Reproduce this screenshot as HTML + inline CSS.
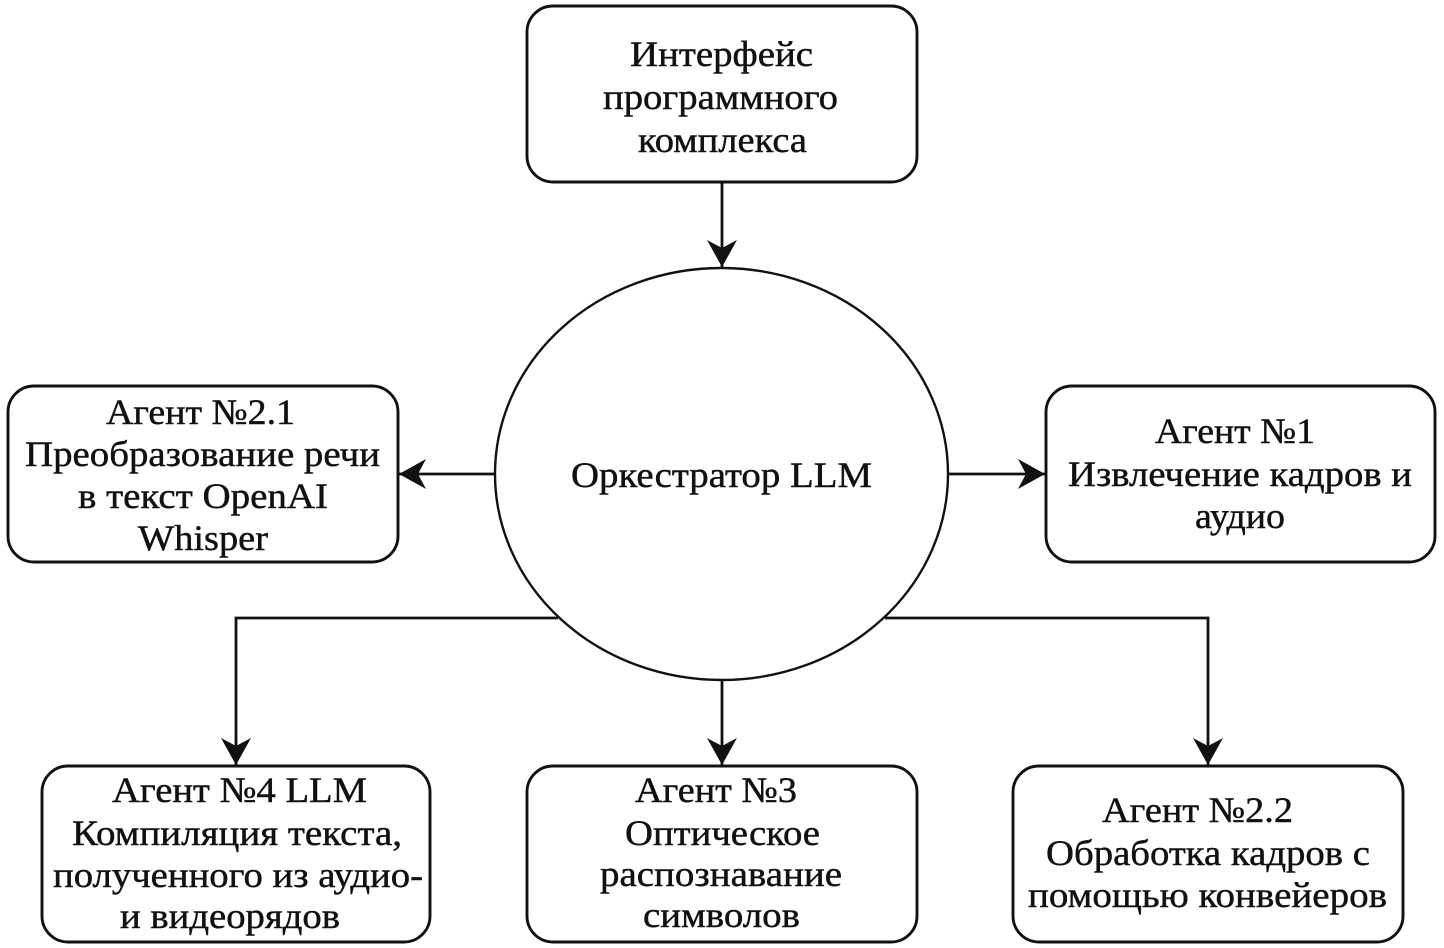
<!DOCTYPE html>
<html>
<head>
<meta charset="utf-8">
<style>
  html, body { margin: 0; padding: 0; background: #ffffff; }
  body { width: 1444px; height: 948px; overflow: hidden; }
  svg { display: block; }
  text { font-family: "Liberation Serif", "Noto Serif CJK SC", serif; font-size: 36px; fill: #111; stroke: #111; stroke-width: 0.45px; }
</style>
</head>
<body>
<svg width="1444" height="948" viewBox="0 0 1444 948" xmlns="http://www.w3.org/2000/svg">
  <defs>
    <marker id="ah" markerUnits="userSpaceOnUse" viewBox="0 0 28 30" markerWidth="28" markerHeight="30" refX="27" refY="15" orient="auto">
      <path d="M0,0 L27,15 L0,30 L8,15 Z" fill="#111"/>
    </marker>
  </defs>

  <g fill="none" stroke="#111" stroke-width="2.9">
    <rect x="527" y="6" width="390" height="176" rx="26" ry="26" fill="#fff"/>
    <rect x="8" y="386" width="390" height="176" rx="26" ry="26" fill="#fff"/>
    <rect x="1046" y="386" width="389" height="176" rx="26" ry="26" fill="#fff"/>
    <rect x="42" y="766" width="388" height="176" rx="26" ry="26" fill="#fff"/>
    <rect x="527" y="766" width="390" height="176" rx="26" ry="26" fill="#fff"/>
    <rect x="1013" y="766" width="390" height="176" rx="26" ry="26" fill="#fff"/>
    <ellipse cx="721.5" cy="474" rx="226.5" ry="206" stroke-width="2.4" fill="#fff"/>
  </g>

  <g fill="none" stroke="#111" stroke-width="2.8">
    <line x1="722" y1="182" x2="722" y2="267" marker-end="url(#ah)"/>
    <line x1="495" y1="474" x2="399" y2="474" marker-end="url(#ah)"/>
    <line x1="948" y1="474" x2="1045" y2="474" marker-end="url(#ah)"/>
    <line x1="722" y1="680" x2="722" y2="765" marker-end="url(#ah)"/>
    <polyline points="558,618 236,618 236,765" marker-end="url(#ah)"/>
    <polyline points="885,618 1208,618 1208,765" marker-end="url(#ah)"/>
  </g>

  <text x="630" y="66" textLength="183" lengthAdjust="spacingAndGlyphs">Интерфейс</text>
  <text x="603" y="109" textLength="235" lengthAdjust="spacingAndGlyphs">программного</text>
  <text x="638" y="152" textLength="169" lengthAdjust="spacingAndGlyphs">комплекса</text>

  <text x="571" y="487" textLength="301" lengthAdjust="spacingAndGlyphs">Оркестратор LLM</text>

  <text x="106" y="424" textLength="189" lengthAdjust="spacingAndGlyphs">Агент №2.1</text>
  <text x="25" y="466" textLength="355" lengthAdjust="spacingAndGlyphs">Преобразование речи</text>
  <text x="78" y="508" textLength="250" lengthAdjust="spacingAndGlyphs">в текст OpenAI</text>
  <text x="138" y="550" textLength="130" lengthAdjust="spacingAndGlyphs">Whisper</text>

  <text x="1155" y="443" textLength="160" lengthAdjust="spacingAndGlyphs">Агент №1</text>
  <text x="1068" y="486" textLength="344" lengthAdjust="spacingAndGlyphs">Извлечение кадров и</text>
  <text x="1195" y="528" textLength="90" lengthAdjust="spacingAndGlyphs">аудио</text>

  <text x="112" y="802" textLength="255" lengthAdjust="spacingAndGlyphs">Агент №4 LLM</text>
  <text x="72" y="845" textLength="330" lengthAdjust="spacingAndGlyphs">Компиляция текста,</text>
  <text x="53" y="887" textLength="370" lengthAdjust="spacingAndGlyphs">полученного из аудио-</text>
  <text x="120" y="928" textLength="220" lengthAdjust="spacingAndGlyphs">и видеорядов</text>

  <text x="635" y="802" textLength="162" lengthAdjust="spacingAndGlyphs">Агент №3</text>
  <text x="625" y="845" textLength="195" lengthAdjust="spacingAndGlyphs">Оптическое</text>
  <text x="600" y="886" textLength="242" lengthAdjust="spacingAndGlyphs">распознавание</text>
  <text x="643" y="927" textLength="157" lengthAdjust="spacingAndGlyphs">символов</text>

  <text x="1102" y="822" textLength="191" lengthAdjust="spacingAndGlyphs">Агент №2.2</text>
  <text x="1046" y="865" textLength="324" lengthAdjust="spacingAndGlyphs">Обработка кадров с</text>
  <text x="1028" y="907" textLength="359" lengthAdjust="spacingAndGlyphs">помощью конвейеров</text>
</svg>
</body>
</html>
